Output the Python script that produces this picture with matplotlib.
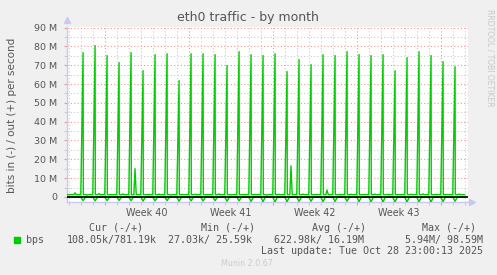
import numpy as np
import matplotlib
matplotlib.use("Agg")
from matplotlib import pyplot as plt
from matplotlib.transforms import blended_transform_factory

# days counted from Mon Sep 29 2025 (start of week 40)
peak_days = list(range(-2, 30))
peak_out = [76.7, 80.4, 75.1, 71.4, 76.7, 67.1, 75.6, 76.1, 61.8, 76.1, 76.1,
            75.6, 69.8, 77.2, 75.6, 75.1, 76.1, 66.6, 73.0, 70.3, 75.6, 75.1,
            77.2, 75.6, 75.1, 75.6, 67.1, 74.0, 77.2, 75.1, 71.9, 69.2]
dip_in = [-2.0, -2.1, -2.0, -1.9, -2.0, -2.2, -2.1, -2.0, -2.3, -2.1, -2.2,
          -2.0, -2.3, -2.1, -2.4, -2.5, -2.6, -2.5, -2.4, -2.3, -2.5, -2.4,
          -2.3, -2.5, -2.6, -2.7, -2.6, -2.7, -2.6, -2.7, -2.5, -2.3]
bump_days = list(range(-3, 30))
bump_out = [2.2, 1.0, 1.8, 1.2, 1.6, 15.0, 1.2, 1.5, 1.0, 1.3, 1.4, 1.2, 1.6,
            1.1, 1.2, 1.3, 1.0, 1.4, 16.5, 1.5, 1.2, 3.7, 1.1, 1.4, 1.2, 1.5,
            1.3, 1.2, 1.4, 1.6, 1.2, 1.3, 1.5]
base_out = 1.2
base_in = -0.1

headers = ["Cur (-/+)", "Min (-/+)", "Avg (-/+)", "Max (-/+)"]
values = ["108.05k/781.19k", "27.03k/ 25.59k", "622.98k/ 16.19M", "5.94M/ 98.59M"]
week_labels = ["Week 40", "Week 41", "Week 42", "Week 43"]
yticks = [0, 10, 20, 30, 40, 50, 60, 70, 80, 90]

# build the time series from the values
pk = dict(zip(peak_days, peak_out))
dp = dict(zip(peak_days, dip_in))
bp = dict(zip(bump_days, bump_out))
t_out, v_out, t_in, v_in = [-3.17], [base_out], [-3.17], [base_in]
for d in bump_days:
    if d in pk:
        t_out += [d - 0.02, d + 0.17, d + 0.19]
        v_out += [base_out, pk[d], base_out]
        t_in += [d - 0.02, d + 0.17, d + 0.36]
        v_in += [base_in, dp[d], base_in]
    t_out += [d + 0.4, d + 0.5, d + 0.6]
    v_out += [base_out, bp[d], base_out]
t_out.append(29.96); v_out.append(base_out)
t_in.append(29.96); v_in.append(base_in)
t_out = np.array(t_out); v_out = np.array(v_out) * 1e6
t_in = np.array(t_in); v_in = np.array(v_in) * 1e6

W, H = 497, 275
fig = plt.figure(figsize=(W / 100, H / 100), dpi=100, facecolor="#f0f0f0")
ax = fig.add_axes([67 / W, 1 - 202 / H, 401 / W, 175 / H])
ax.set_facecolor("white")

green = "#00cc00"
ax.plot(t_in, v_in, color=green, lw=1.0, zorder=3)
ax.plot(t_out, v_out, color=green, lw=1.0, zorder=3)
ax.axhline(0, color="black", lw=1.2, zorder=4)

ax.set_xlim(-3.17, 30.25)
ax.set_ylim(-2.7e6, 90.3e6)

red = (0.93, 0.6, 0.6)
grey = (0.8, 0.8, 0.8)
ax.set_yticks([v * 1e6 for v in yticks])
ax.set_yticklabels(["0" if v == 0 else "%d M" % v for v in yticks])
ax.set_yticks([v * 1e6 + 5e6 for v in yticks[:-1]], minor=True)
ax.set_xticks([0, 7, 14, 21, 28])
ax.set_xticklabels([])
ax.set_xticks(range(-3, 31), minor=True)
ax.grid(which="major", color=red, lw=0.8, ls=(0, (1, 2)))
ax.grid(which="minor", color=grey, lw=0.8, ls=(0, (1, 2)))
ax.tick_params(which="both", length=2, width=0.8, labelsize=6.8,
               labelcolor="#555555", pad=5)
ax.tick_params(axis="x", which="major", color=red)
ax.tick_params(which="minor", color=grey)
ax.tick_params(axis="y", which="major", color=red)

for s in ["top", "right"]:
    ax.spines[s].set_visible(False)
for s in ["left", "bottom"]:
    ax.spines[s].set_color("#c8c8f0")
    ax.spines[s].set_linewidth(1.0)
ax.plot([0], [1.04], marker="^", color="#c8c8f0", ms=5, transform=ax.transAxes, clip_on=False)
ax.plot([1.01], [0], marker=">", color="#c8c8f0", ms=5, transform=ax.transAxes, clip_on=False)

tr = blended_transform_factory(ax.transData, ax.transAxes)
for i, lab in enumerate(week_labels):
    ax.text(3.5 + 7 * i, -0.035, lab, transform=tr, ha="center", va="top",
            fontsize=6.9, color="#555555")

fig.text(248 / W, 1 - 17 / H, "eth0 traffic - by month", ha="center", va="center",
         fontsize=9, color="#555555")
fig.text(12 / W, 1 - 115 / H, "bits in (-) / out (+) per second", rotation=90,
         ha="center", va="center", fontsize=7.5, color="#555555")
fig.text(490 / W, 1 - 58 / H, "RRDTOOL / TOBI OETIKER", rotation=270,
         ha="center", va="center", fontsize=5.5, color="#c8c8c8")

mono = "DejaVu Sans Mono"
hx = [116, 228, 339, 449]
for x, h in zip(hx, headers):
    fig.text(x / W, 1 - 228 / H, h, ha="center", va="center", family=mono,
             fontsize=7.2, color="#555555")
vx = [157, 252, 364, 483]
for x, v in zip(vx, values):
    fig.text(x / W, 1 - 240 / H, v, ha="right", va="center", family=mono,
             fontsize=7.2, color="#555555")
fig.patches.append(plt.Rectangle((14 / W, 1 - 243 / H), 6 / W, 6 / H,
                                 transform=fig.transFigure, color=green))
fig.text(26 / W, 1 - 240 / H, "bps", ha="left", va="center", family=mono,
         fontsize=7.2, color="#555555")
fig.text(483 / W, 1 - 251 / H, "Last update: Tue Oct 28 23:00:13 2025", ha="right",
         va="center", family=mono, fontsize=7.2, color="#555555")
fig.text(247 / W, 1 - 264 / H, "Munin 2.0.67", ha="center", va="center",
         fontsize=5.8, color="#cccccc")

fig.savefig("out.png", dpi=100, facecolor=fig.get_facecolor())
